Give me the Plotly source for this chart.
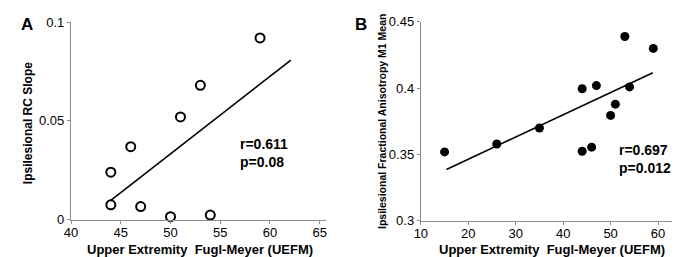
import plotly.graph_objects as go

# Panel A data
a_x = [44, 44, 46, 47, 50, 51, 53, 54, 59]
a_y = [0.0241, 0.0076, 0.037, 0.0067, 0.0016, 0.052, 0.068, 0.0024, 0.092]
a_trend_x = [44, 62.1]
a_trend_y = [0.0098, 0.0808]
a_xticks = [40, 45, 50, 55, 60, 65]
a_yticks = [0, 0.05, 0.1]
a_yticklabels = ["0", "0.05", "0.1"]

# Panel B data
b_x = [15, 26, 35, 44, 44, 46, 47, 50, 51, 53, 54, 59]
b_y = [0.352, 0.358, 0.370, 0.3525, 0.3996, 0.3556, 0.402, 0.3795, 0.388, 0.439, 0.401, 0.430]
b_trend_x = [15.4, 58.9]
b_trend_y = [0.3388, 0.4117]
b_xticks = [10, 20, 30, 40, 50, 60]
b_yticks = [0.3, 0.35, 0.4, 0.45]
b_yticklabels = ["0.3", "0.35", "0.4", "0.45"]

W, H = 680, 257
FONT = "Liberation Sans, Arial, sans-serif"
AXC = "#8c8c8c"

fig = go.Figure()
fig.add_trace(go.Scatter(x=a_trend_x, y=a_trend_y, mode="lines",
                         line=dict(color="black", width=1.6), xaxis="x", yaxis="y", showlegend=False))
fig.add_trace(go.Scatter(x=a_x, y=a_y, mode="markers",
                         marker=dict(symbol="circle-open", size=9, color="black", line=dict(width=2)),
                         xaxis="x", yaxis="y", showlegend=False, cliponaxis=False))
fig.add_trace(go.Scatter(x=b_trend_x, y=b_trend_y, mode="lines",
                         line=dict(color="black", width=1.6), xaxis="x2", yaxis="y2", showlegend=False))
fig.add_trace(go.Scatter(x=b_x, y=b_y, mode="markers",
                         marker=dict(symbol="circle", size=9, color="black"),
                         xaxis="x2", yaxis="y2", showlegend=False, cliponaxis=False))

axis_common = dict(showgrid=False, zeroline=False, showline=True, linecolor=AXC, linewidth=1.2,
                   ticks="outside", ticklen=3, tickcolor=AXC, tickwidth=1,
                   tickfont=dict(family=FONT, size=13, color="black"))

fig.update_layout(
    width=W, height=H,
    margin=dict(l=0, r=0, t=0, b=0),
    paper_bgcolor="white", plot_bgcolor="white",
    xaxis=dict(domain=[56.7 / W, 315 / W], range=[40, 65.66], tickvals=a_xticks,
               anchor="y", ticklabelstandoff=-3, **axis_common),
    yaxis=dict(domain=[1 - 217.5 / H, 1 - 7.5 / H], range=[0, 0.1], tickvals=a_yticks,
               ticktext=a_yticklabels, anchor="x", **axis_common),
    xaxis2=dict(domain=[410.7 / W, 675 / W], range=[10, 65.06], tickvals=b_xticks,
                anchor="y2", ticklabelstandoff=-3, **axis_common),
    yaxis2=dict(domain=[1 - 218.7 / H, 1 - 7.3 / H], range=[0.3, 0.45], tickvals=b_yticks,
                ticktext=b_yticklabels, anchor="x2", **axis_common),
)

bold = dict(family=FONT, color="black")
ann = [
    dict(text="<b>A</b>", x=4 / W, y=1 - 10 / H, xanchor="left", yanchor="middle",
         font=dict(size=17, **bold)),
    dict(text="<b>B</b>", x=342 / W, y=1 - 10 / H, xanchor="left", yanchor="middle",
         font=dict(size=17, **bold)),
    dict(text="<b>Upper Extremity  Fugl-Meyer (UEFM)</b>", x=187 / W, y=1 - 249 / H,
         xanchor="center", yanchor="middle", font=dict(size=13, **bold)),
    dict(text="<b>Upper Extremity  Fugl-Meyer (UEFM)</b>", x=543 / W, y=1 - 249 / H,
         xanchor="center", yanchor="middle", font=dict(size=13, **bold)),
    dict(text="<b>Ipsilesional RC Slope</b>", x=13 / W, y=1 - 115 / H, textangle=-90,
         xanchor="center", yanchor="middle", font=dict(size=12, **bold)),
    dict(text="<b>Ipsilesional Fractional Anisotropy M1 Mean</b>", x=372 / W, y=1 - 113 / H,
         textangle=-90, xanchor="center", yanchor="middle", font=dict(size=10.5, **bold)),
    dict(text="<b>r=0.611<br>p=0.08</b>", x=226 / W, y=1 - 147 / H, xanchor="left",
         yanchor="middle", align="left", font=dict(size=14, **bold)),
    dict(text="<b>r=0.697<br>p=0.012</b>", x=609 / W, y=1 - 153 / H, xanchor="left",
         yanchor="middle", align="left", font=dict(size=14, **bold)),
]
for a in ann:
    a.update(xref="paper", yref="paper", showarrow=False)
fig.update_layout(annotations=ann)

fig.write_html("out.html")
